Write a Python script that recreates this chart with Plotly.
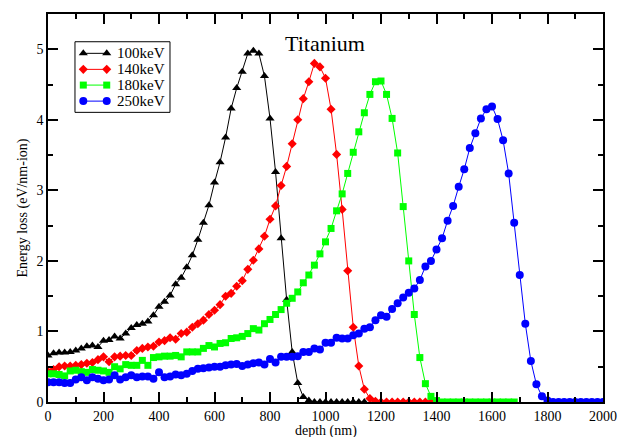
import plotly.graph_objects as go

# Depth grids (nm) for each beam energy
depth_100 = list(range(0, 1160, 20))
depth_140 = list(range(0, 1400, 20))
depth_180 = list(range(0, 1700, 20))
depth_250 = list(range(0, 2020, 20))

# Energy loss (eV/nm-ion)
loss_100 = [0.66, 0.69, 0.70, 0.70, 0.71, 0.73, 0.76, 0.79, 0.80, 0.78,
            0.87, 0.88, 0.93, 0.90, 0.97, 1.05, 1.09, 1.11, 1.14, 1.23,
            1.35, 1.42, 1.51, 1.67, 1.76, 1.91, 2.08, 2.30, 2.54, 2.79,
            3.11, 3.40, 3.75, 4.16, 4.45, 4.68, 4.94, 4.98, 4.94, 4.62,
            4.02, 3.26, 2.32, 1.45, 0.71, 0.27, 0.07, 0.02, 0.0, 0.0,
            0.0, 0.0, 0.0, 0.0, 0.0, 0.0, 0.0, 0.0]

loss_140 = [0.43, 0.46, 0.50, 0.51, 0.51, 0.52, 0.53, 0.55, 0.56, 0.60,
            0.64, 0.57, 0.64, 0.65, 0.66, 0.66, 0.73, 0.76, 0.78, 0.79,
            0.85, 0.87, 0.91, 0.89, 0.97, 0.99, 1.06, 1.11, 1.16, 1.24,
            1.30, 1.38, 1.50, 1.54, 1.64, 1.72, 1.88, 2.01, 2.17, 2.35,
            2.59, 2.78, 3.07, 3.34, 3.66, 4.00, 4.30, 4.54, 4.80, 4.75,
            4.59, 4.15, 3.51, 2.73, 1.86, 1.06, 0.51, 0.18, 0.05, 0.01,
            0.0, 0.0, 0.0, 0.0, 0.0, 0.0, 0.0, 0.0, 0.0, 0.0]

loss_180 = [0.40, 0.40, 0.39, 0.37, 0.44, 0.45, 0.43, 0.42, 0.46, 0.45,
            0.44, 0.42, 0.50, 0.47, 0.53, 0.52, 0.52, 0.59, 0.52, 0.63,
            0.64, 0.65, 0.65, 0.66, 0.64, 0.71, 0.71, 0.71, 0.76, 0.80,
            0.78, 0.83, 0.84, 0.90, 0.91, 0.93, 0.97, 1.04, 1.02, 1.11,
            1.17, 1.24, 1.31, 1.40, 1.47, 1.56, 1.69, 1.80, 1.94, 2.10,
            2.27, 2.46, 2.71, 2.95, 3.24, 3.54, 3.83, 4.10, 4.36, 4.54,
            4.55, 4.36, 4.02, 3.53, 2.77, 2.00, 1.24, 0.63, 0.26, 0.08,
            0.02, 0.0, 0.0, 0.0, 0.0, 0.0, 0.0, 0.0, 0.0, 0.0,
            0.0, 0.0, 0.0, 0.0, 0.0]

loss_250 = [0.28, 0.28, 0.28, 0.27, 0.27, 0.32, 0.35, 0.31, 0.35, 0.33,
            0.31, 0.32, 0.38, 0.32, 0.35, 0.38, 0.35, 0.36, 0.36, 0.33,
            0.42, 0.35, 0.36, 0.39, 0.38, 0.40, 0.44, 0.47, 0.48, 0.49,
            0.50, 0.50, 0.52, 0.53, 0.54, 0.51, 0.53, 0.55, 0.56, 0.53,
            0.61, 0.56, 0.64, 0.64, 0.64, 0.65, 0.71, 0.71, 0.76, 0.745,
            0.84, 0.84, 0.91, 0.90, 0.90, 0.945, 0.97, 1.04, 1.06, 1.16,
            1.23, 1.21, 1.32, 1.40, 1.48, 1.55, 1.61, 1.73, 1.92, 2.00,
            2.16, 2.32, 2.57, 2.78, 3.05, 3.30, 3.60, 3.81, 4.02, 4.15,
            4.19, 4.01, 3.71, 3.24, 2.54, 1.80, 1.11, 0.58, 0.25, 0.08,
            0.02, 0.0, 0.0, 0.0, 0.0, 0.0, 0.0, 0.0, 0.0, 0.0,
            0.0]

series_names = ["100keV", "140keV", "180keV", "250keV"]
series_colors = ["black", "#ff0000", "#00ff00", "#0000ff"]
series_symbols = ["triangle-up", "diamond", "square", "circle"]
series_sizes = [8, 7, 7, 8]
depths = [depth_100, depth_140, depth_180, depth_250]
losses = [loss_100, loss_140, loss_180, loss_250]

FONT = "Liberation Serif"

fig = go.Figure()
for name, x, y, color, symbol, size in zip(series_names, depths, losses,
                                           series_colors, series_symbols, series_sizes):
    fig.add_trace(go.Scatter(
        x=x, y=y, name=name, mode="lines+markers", showlegend=False,
        line=dict(color=color, width=1),
        marker=dict(color=color, symbol=symbol, size=size, line=dict(width=0)),
    ))

# Legend box drawn on a hidden overlay axis measured in paper fractions
leg_left, leg_right, leg_top, leg_bottom = 0.0486, 0.2198, 0.9285, 0.7465
row_y = [0.8986, 0.8573, 0.8168, 0.7755]
key_x0, key_x1, text_x = 0.0636, 0.1058, 0.1207

fig.add_shape(type="rect", xref="paper", yref="paper",
              x0=leg_left, x1=leg_right, y0=leg_bottom, y1=leg_top,
              line=dict(color="black", width=1), fillcolor="white", layer="below")

for name, color, symbol, size, ry in zip(series_names, series_colors,
                                          series_symbols, series_sizes, row_y):
    fig.add_trace(go.Scatter(
        x=[key_x0, key_x1], y=[ry, ry], xaxis="x2", yaxis="y2",
        mode="lines+markers", showlegend=False, hoverinfo="skip",
        line=dict(color=color, width=1),
        marker=dict(color=color, symbol=symbol, size=size, line=dict(width=0)),
    ))
    fig.add_annotation(text=name, xref="paper", yref="paper", x=text_x, y=ry,
                       xanchor="left", yanchor="middle", showarrow=False,
                       font=dict(family=FONT, size=15, color="black"))

axis_common = dict(
    showline=True, linecolor="black", linewidth=1.5, mirror="ticks",
    ticks="inside", ticklen=10, tickwidth=1.5, tickcolor="black",
    showgrid=False, zeroline=False,
    tickfont=dict(family=FONT, size=14, color="black"),
)

fig.update_xaxes(
    range=[0, 2000], dtick=200, tick0=0,
    minor=dict(ticks="inside", ticklen=5, dtick=100, tickwidth=1.5,
               tickcolor="black", showgrid=False),
    **axis_common,
)
fig.update_yaxes(
    range=[0, 5.5], dtick=1, tick0=0,
    minor=dict(ticks="inside", ticklen=5, dtick=0.5, tickwidth=1.5,
               tickcolor="black", showgrid=False),
    title=dict(text="Energy loss (eV/nm-ion)",
               font=dict(family=FONT, size=14, color="black"), standoff=6),
    **axis_common,
)

fig.add_annotation(
    text="depth (nm)", xref="paper", yref="paper", x=0.5, y=-0.0735,
    xanchor="center", yanchor="middle", showarrow=False, height=12,
    font=dict(family=FONT, size=14, color="black"),
)
fig.add_annotation(
    text="Titanium", xref="paper", yref="paper", x=0.499, y=0.925,
    xanchor="center", yanchor="middle", showarrow=False,
    font=dict(family=FONT, size=22, color="black"),
)

fig.update_layout(
    width=627, height=437,
    margin=dict(l=48, r=24, t=14, b=35, autoexpand=False),
    paper_bgcolor="white", plot_bgcolor="white",
    showlegend=False,
    xaxis2=dict(overlaying="x", range=[0, 1], visible=False, fixedrange=True),
    yaxis2=dict(overlaying="y", range=[0, 1], visible=False, fixedrange=True),
)

fig.write_html("out.html")
